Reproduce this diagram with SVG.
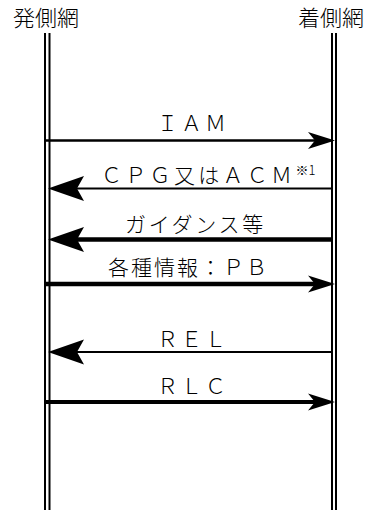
<svg xmlns="http://www.w3.org/2000/svg" width="366" height="513" viewBox="0 0 366 513">
<style>
.lbl{font-family:"Noto Sans CJK JP","Noto Sans CJK SC",sans-serif;fill:#000;font-weight:300}
.head{font-size:22px;text-anchor:middle}
.msg{font-size:21px}
.life{stroke:#000;stroke-width:2;fill:none}
.thin{stroke:#000;stroke-width:2;fill:none}
.thick{stroke:#000;stroke-width:4.5;fill:none}
</style>
<defs>
<path id="hr" d="M0,0 L-27,-8.5 L-20,0 L-27,8.5 Z" fill="#000"/>
<path id="hl" d="M0,0 L36,-12.5 L29,0 L36,12.5 Z" fill="#000"/>
</defs>
<g id="node-origin">
<text class="lbl head" x="46" y="26">発側網</text>
<line class="life" x1="45" y1="33" x2="45" y2="510"/>
<line class="life" x1="49.5" y1="33" x2="49.5" y2="510"/>
</g>
<g id="node-terminating">
<text class="lbl head" x="331" y="26">着側網</text>
<line class="life" x1="332" y1="33" x2="332" y2="510"/>
<line class="life" x1="336" y1="33" x2="336" y2="510"/>
</g>
<g id="connectors">
<line x1="45" y1="140.5" x2="320" y2="140.5" stroke="#000" stroke-width="2.7"/>
<use href="#hr" x="335" y="140.5"/>
<line class="thin" x1="70" y1="188.5" x2="332" y2="188.5"/>
<use href="#hl" x="48" y="188.5"/>
<line class="thick" x1="70" y1="239.5" x2="332" y2="239.5"/>
<use href="#hl" x="48" y="239.5"/>
<line class="thick" x1="45" y1="284" x2="318" y2="284"/>
<use href="#hr" x="335" y="284"/>
<line class="thin" x1="70" y1="352" x2="332" y2="352"/>
<use href="#hl" x="48" y="352"/>
<line x1="45" y1="402" x2="318" y2="402" stroke="#000" stroke-width="4"/>
<use href="#hr" x="335" y="402"/>
</g>
<g id="labels">
<text class="lbl msg" x="157" y="131" letter-spacing="3">ＩＡＭ</text>
<text class="lbl msg" x="101" y="183" letter-spacing="3.3">ＣＰＧ又はＡＣＭ<tspan font-size="13" dy="-8" letter-spacing="0">※1</tspan></text>
<text class="lbl msg" x="125" y="232" letter-spacing="2.7">ガイダンス等</text>
<text class="lbl msg" x="108" y="275" letter-spacing="2">各種情報：ＰＢ</text>
<text class="lbl msg" x="157" y="347" letter-spacing="3">ＲＥＬ</text>
<text class="lbl msg" x="157" y="394" letter-spacing="3">ＲＬＣ</text>
</g>
</svg>
